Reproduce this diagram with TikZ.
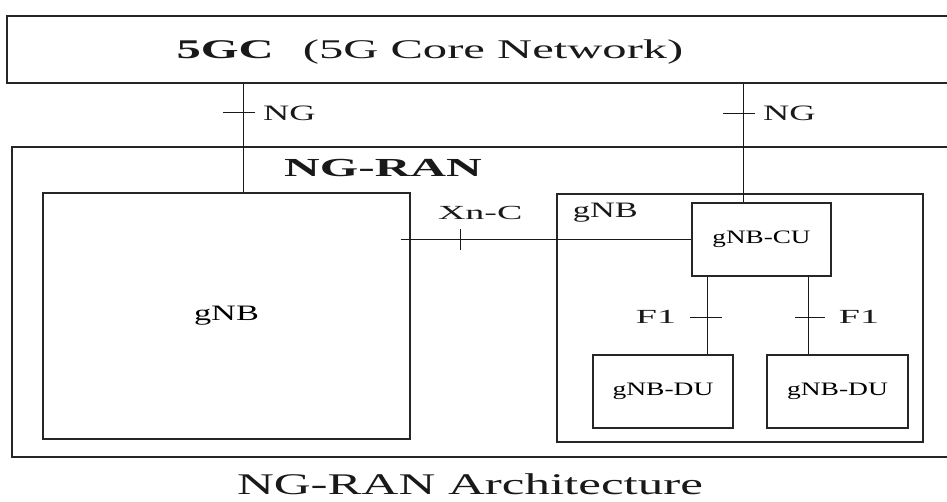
\documentclass[tikz,border=0pt]{standalone}
\usepackage{fontspec}
\setmainfont{Liberation Serif}
\usepackage{graphicx}
\newcommand{\sx}[2]{\scalebox{#1}[1]{#2}}
\begin{document}
\begin{tikzpicture}[x=1pt,y=-1pt,
  box/.style={draw=black!85, line width=1.3pt, rectangle, inner sep=0pt},
  conn/.style={draw=black!90, line width=1pt},
  tick/.style={draw=black!90, line width=1pt},
  lbl/.style={inner sep=0pt, text=black!90}]
\useasboundingbox (0,0) rectangle (947,502);
\clip (0,0) rectangle (947,502);
% outer boxes
\node[box, minimum width=953pt, minimum height=67pt] (core) at (483.5,49.5) {};
\node[lbl] (coretxt) at (430,52) {\fontsize{27}{30}\selectfont\sx{1.8}{\textbf{5GC}\hspace{0.6em}(5G Core Network)}};
\node[box, minimum width=950pt, minimum height=310pt] (ran) at (487,302) {};
\node[lbl] (rantxt) at (383,168) {\fontsize{26}{30}\selectfont\sx{1.9}{\textbf{NG-RAN}}};
% gNBs
\node[box, minimum width=367pt, minimum height=246pt] (lgnb) at (226.5,316) {\fontsize{22}{26}\selectfont\sx{1.56}{gNB}};
\node[box, minimum width=366pt, minimum height=248pt] (rgnb) at (740,318) {};
\node[lbl] (rgnblbl) at ([xshift=49pt,yshift=-19pt]rgnb.north west) {\fontsize{22}{26}\selectfont\sx{1.56}{gNB}};
\node[box, minimum width=139pt, minimum height=73pt] (cu) at (761.5,239.5) {\fontsize{19}{22}\selectfont\sx{1.43}{gNB-CU}};
\node[box, minimum width=140pt, minimum height=73pt] (du1) at (663,391.5) {\fontsize{19}{22}\selectfont\sx{1.45}{gNB-DU}};
\node[box, minimum width=141pt, minimum height=73pt] (du2) at (837.5,391.5) {\fontsize{19}{22}\selectfont\sx{1.45}{gNB-DU}};
% NG interfaces
\draw[conn] ([xshift=16.5pt]lgnb.north |- core.south) -- coordinate[pos=0.27] (ng1) ([xshift=16.5pt]lgnb.north);
\draw[tick] ([xshift=-20pt]ng1) -- ([xshift=12pt]ng1);
\node[lbl, anchor=west] (ng1lbl) at ([xshift=20pt]ng1) {\fontsize{22}{26}\selectfont\sx{1.65}{NG}};
\draw[conn] ([xshift=-18.5pt]cu.north |- core.south) -- coordinate[pos=0.25] (ng2) ([xshift=-18.5pt]cu.north);
\draw[tick] ([xshift=-20pt]ng2) -- ([xshift=12pt]ng2);
\node[lbl, anchor=west] (ng2lbl) at ([xshift=20pt]ng2) {\fontsize{22}{26}\selectfont\sx{1.65}{NG}};
% Xn-C
\draw[conn] ([xshift=-10pt]lgnb.east |- cu.west) -- coordinate[pos=0.205] (xn) (cu.west);
\draw[tick] ([yshift=10pt]xn) -- ([yshift=-11pt]xn);
\node[lbl] (xnlbl) at ([xshift=20pt,yshift=27pt]xn) {\fontsize{20}{24}\selectfont\sx{1.9}{Xn-C}};
% F1
\draw[conn] ([xshift=44pt]du1.north) -- coordinate[pos=0.48] (f1a) ([xshift=44pt]du1.north |- cu.south);
\draw[tick] ([xshift=-17pt]f1a) -- ([xshift=15pt]f1a);
\node[lbl] (f1albl) at ([xshift=-51pt]f1a) {\fontsize{20}{24}\selectfont\sx{1.9}{F1}};
\draw[conn] ([xshift=-29.5pt]du2.north) -- coordinate[pos=0.48] (f1b) ([xshift=-29.5pt]du2.north |- cu.south);
\draw[tick] ([xshift=-13pt]f1b) -- ([xshift=17pt]f1b);
\node[lbl] (f1blbl) at ([xshift=51pt]f1b) {\fontsize{20}{24}\selectfont\sx{1.9}{F1}};
% caption
\node[lbl] (title) at (470,484) {\fontsize{30}{34}\selectfont\sx{1.7}{NG-RAN Architecture}};
\end{tikzpicture}
\end{document}
